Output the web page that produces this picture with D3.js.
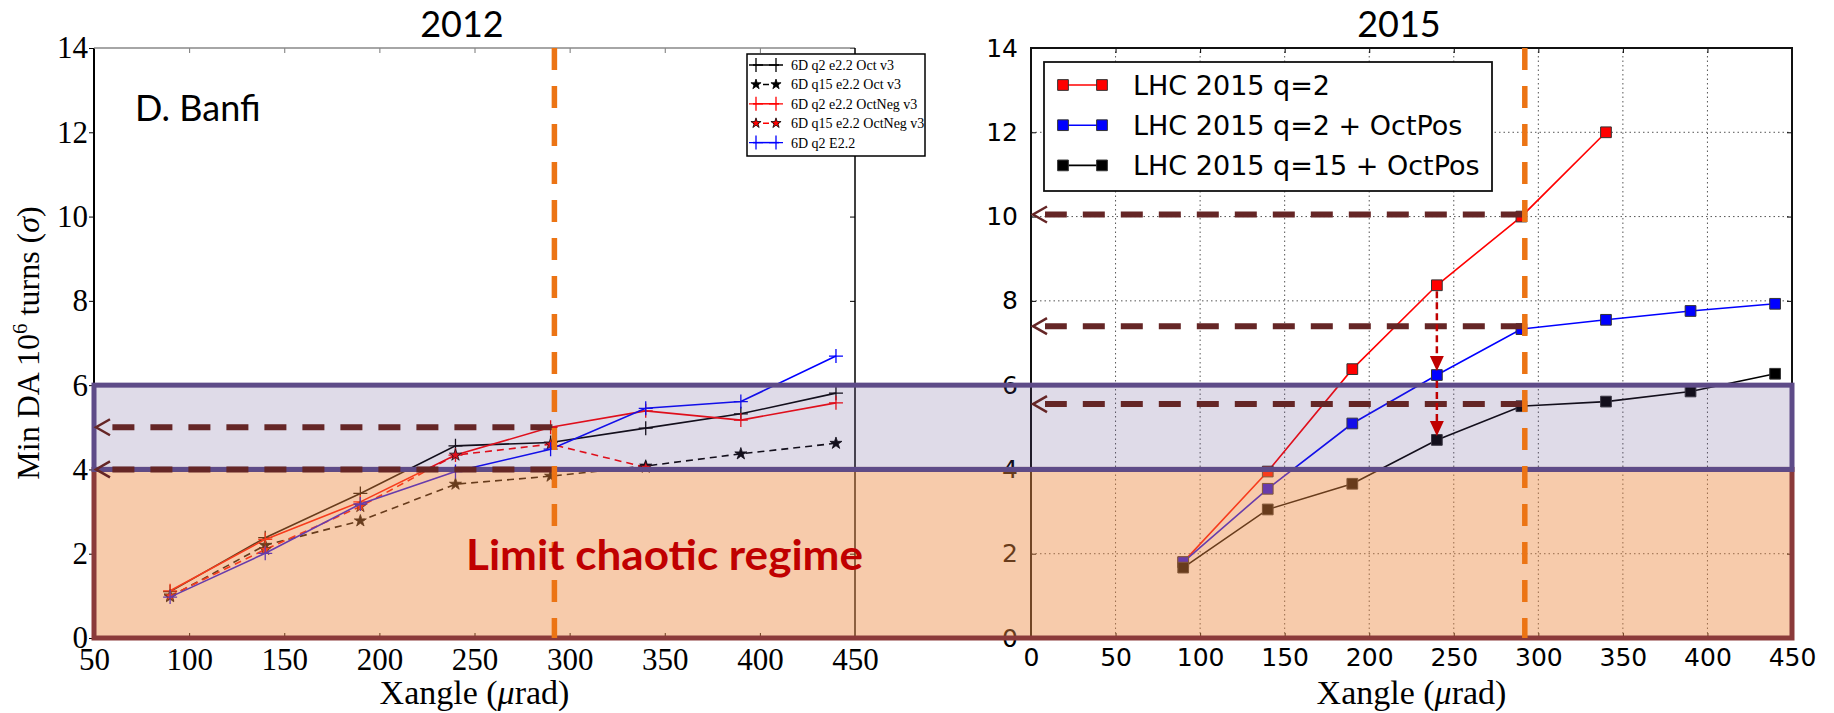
<!DOCTYPE html>
<html>
<head>
<meta charset="utf-8">
<script src="https://cdn.jsdelivr.net/npm/d3@7"></script>
<style>
  body { margin: 0; background: #fff; }
  svg { display: block; }
</style>
</head>
<body>
<div id="chart"></div>
<script>
// ---- data ----
var xangle = [90, 140, 190, 240, 290, 340, 390, 440];

// 2012 panel
var q2Oct2012     = [1.10, 2.38, 3.43, 4.56, 4.64, 4.98, 5.32, 5.81];
var q15Oct2012    = [0.98, 2.20, 2.78, 3.65, 3.84, 4.08, 4.37, 4.62];
var q2OctNeg2012  = [1.12, 2.34, 3.23, 4.34, 5.00, 5.39, 5.17, 5.58];
var q15OctNeg2012 = [1.00, 2.10, 3.12, 4.34, 4.60, 4.05];
var q2E22_2012    = [0.97, 2.01, 3.18, 3.95, 4.48, 5.45, 5.61, 6.69];

// 2015 panel
var q2_2015       = [1.80, 3.95, 6.38, 8.37, 10.0, 12.0];
var q2Oct2015     = [1.80, 3.54, 5.09, 6.24, 7.33, 7.55, 7.76, 7.93];
var q15Oct2015    = [1.67, 3.05, 3.66, 4.70, 5.50, 5.61, 5.85, 6.27];

var xTicks2012 = [50, 100, 150, 200, 250, 300, 350, 400, 450];
var xTicks2015 = [0, 50, 100, 150, 200, 250, 300, 350, 400, 450];
var yTicks = [0, 2, 4, 6, 8, 10, 12, 14];

var xangleLimit = 292;          // orange dashed line
var arrows2012 = [5.0, 4.0];    // horizontal dashed arrows
var arrows2015 = [10.05, 7.4, 5.55];
var chaoticMax = 4, bandMax = 6;

var W = 1834, H = 713;
var serif = "'Liberation Serif', 'DejaVu Serif', serif";
var dejavu = "'DejaVu Sans', sans-serif";
var lato = "Lato, 'Open Sans', sans-serif";

var svg = d3.select("#chart").append("svg")
    .attr("width", W).attr("height", H);

var y = d3.scaleLinear().domain([0, 14]).range([638, 48]);
var xL = d3.scaleLinear().domain([50, 450]).range([94, 855]);
var xR = d3.scaleLinear().domain([0, 450]).range([1031, 1792]);

// ---- right panel grid ----
var grid = svg.append("g").attr("stroke", "#555").attr("stroke-width", 1)
    .attr("stroke-dasharray", "1.5,3");
grid.selectAll(".gx").data(xTicks2015.slice(1, -1)).enter().append("line")
    .attr("x1", function (d) { return xR(d); }).attr("x2", function (d) { return xR(d); })
    .attr("y1", y(0)).attr("y2", y(14));
grid.selectAll(".gy").data(yTicks.slice(1, -1)).enter().append("line")
    .attr("x1", xR(0)).attr("x2", xR(450))
    .attr("y1", function (d) { return y(d); }).attr("y2", function (d) { return y(d); });

// ---- axes ----
function styleAxis(g, font, size) {
    g.select(".domain").remove();
    g.selectAll(".tick text").attr("font-family", font).attr("font-size", size).attr("fill", "#000");
    g.selectAll(".tick line").attr("stroke", "#000").attr("stroke-width", 1);
}
// tick marks only, no labels
function ticksOnly(g) {
    g.select(".domain").remove();
    g.selectAll(".tick text").remove();
    g.selectAll(".tick line").attr("stroke", "#000").attr("stroke-width", 1);
}

// left panel
svg.append("g").attr("transform", "translate(0," + y(0) + ")")
    .call(d3.axisBottom(xL).tickValues(xTicks2012).tickSize(0).tickPadding(10))
    .call(styleAxis, serif, 31);
svg.append("g").attr("transform", "translate(0," + y(0) + ")")
    .call(d3.axisBottom(xL).tickValues(xTicks2012.slice(1, -1)).tickSize(-5))
    .call(ticksOnly);
svg.append("g").attr("transform", "translate(0," + y(14) + ")")
    .call(d3.axisTop(xL).tickValues(xTicks2012.slice(1, -1)).tickSize(-5))
    .call(ticksOnly)
    .selectAll(".tick line").attr("stroke", "#777");
svg.append("g").attr("transform", "translate(" + xL(50) + ",0)")
    .call(d3.axisLeft(y).tickValues(yTicks).tickSize(5).tickPadding(1))
    .call(styleAxis, serif, 31);
svg.append("g").attr("transform", "translate(" + xL(450) + ",0)")
    .call(d3.axisRight(y).tickValues(yTicks).tickSize(-5))
    .call(ticksOnly);
svg.append("line").attr("x1", xL(50)).attr("x2", xL(50)).attr("y1", y(0)).attr("y2", y(14))
    .attr("stroke", "#000").attr("stroke-width", 2);
svg.append("line").attr("x1", xL(50)).attr("x2", xL(450)).attr("y1", y(14)).attr("y2", y(14))
    .attr("stroke", "#888").attr("stroke-width", 1.5);
svg.append("line").attr("x1", xL(450)).attr("x2", xL(450)).attr("y1", y(0)).attr("y2", y(14))
    .attr("stroke", "#000").attr("stroke-width", 1.5);

// right panel
svg.append("g").attr("transform", "translate(0," + y(0) + ")")
    .call(d3.axisBottom(xR).tickValues(xTicks2015).tickSize(0).tickPadding(10))
    .call(styleAxis, dejavu, 25);
svg.append("g").attr("transform", "translate(0," + y(0) + ")")
    .call(d3.axisBottom(xR).tickValues(xTicks2015).tickSize(-5))
    .call(ticksOnly);
svg.append("g").attr("transform", "translate(0," + y(14) + ")")
    .call(d3.axisTop(xR).tickValues(xTicks2015).tickSize(-5))
    .call(ticksOnly);
svg.append("g").attr("transform", "translate(" + xR(0) + ",0)")
    .call(d3.axisLeft(y).tickValues(yTicks).tickSize(-5).tickPadding(13))
    .call(styleAxis, dejavu, 25);
svg.append("g").attr("transform", "translate(" + xR(450) + ",0)")
    .call(d3.axisRight(y).tickValues(yTicks).tickSize(-5))
    .call(ticksOnly);
svg.append("rect").attr("x", xR(0)).attr("y", y(14))
    .attr("width", xR(450) - xR(0)).attr("height", y(0) - y(14))
    .attr("fill", "none").attr("stroke", "#111").attr("stroke-width", 2);

// ---- series ----
function drawSeries(xs, xv, yv, color, dash, marker, fill) {
    var pts = yv.map(function (v, i) { return [xv[i], v]; });
    var line = d3.line().x(function (d) { return xs(d[0]); }).y(function (d) { return y(d[1]); });
    svg.append("path").datum(pts).attr("d", line)
        .attr("fill", "none").attr("stroke", color).attr("stroke-width", 1.6)
        .attr("stroke-dasharray", dash ? "7,5" : null);
    var g = svg.append("g");
    pts.forEach(function (p) {
        addMarker(g, xs(p[0]), y(p[1]), marker, color, fill, 45);
    });
}

function addMarker(g, cx, cy, marker, color, fill, starSize) {
    if (marker === "plus") {
        g.append("path").attr("d", "M-7,0H7M0,-7V7")
            .attr("transform", "translate(" + cx + "," + cy + ")")
            .attr("stroke", color).attr("stroke-width", 1.3);
    } else if (marker === "star") {
        g.append("path").attr("d", d3.symbol(d3.symbolStar, starSize || 45)())
            .attr("transform", "translate(" + cx + "," + cy + ")")
            .attr("fill", fill).attr("stroke", "#000").attr("stroke-width", 0.8);
    } else {
        g.append("path").attr("d", d3.symbol(d3.symbolSquare, 115)())
            .attr("transform", "translate(" + cx + "," + cy + ")")
            .attr("fill", color).attr("stroke", "#333").attr("stroke-width", 1);
    }
}

drawSeries(xL, xangle, q2Oct2012, "#000", false, "plus");
drawSeries(xL, xangle, q15Oct2012, "#000", true, "star", "#000");
drawSeries(xL, xangle, q2OctNeg2012, "#ff0000", false, "plus");
drawSeries(xL, xangle, q15OctNeg2012, "#ff0000", true, "star", "#ff0000");
drawSeries(xL, xangle, q2E22_2012, "#0000ff", false, "plus");

drawSeries(xR, xangle, q2_2015, "#ff0000", false, "square");
drawSeries(xR, xangle, q2Oct2015, "#0000ff", false, "square");
drawSeries(xR, xangle, q15Oct2015, "#000", false, "square");

// ---- shaded bands across both panels ----
var bandX0 = xL(50), bandX1 = xR(450);
svg.append("rect").attr("x", bandX0).attr("y", y(chaoticMax))
    .attr("width", bandX1 - bandX0).attr("height", y(0) - y(chaoticMax))
    .attr("fill", "rgb(237,137,64)").attr("fill-opacity", 0.44);
svg.append("rect").attr("x", bandX0).attr("y", y(bandMax))
    .attr("width", bandX1 - bandX0).attr("height", y(chaoticMax) - y(bandMax))
    .attr("fill", "rgb(95,75,139)").attr("fill-opacity", 0.2);
svg.append("rect").attr("x", bandX0).attr("y", y(chaoticMax))
    .attr("width", bandX1 - bandX0).attr("height", y(0) - y(chaoticMax))
    .attr("fill", "none").attr("stroke", "#8b3a3a").attr("stroke-width", 5);
svg.append("rect").attr("x", bandX0).attr("y", y(bandMax))
    .attr("width", bandX1 - bandX0).attr("height", y(chaoticMax) - y(bandMax))
    .attr("fill", "none").attr("stroke", "#5e4b88").attr("stroke-width", 5);

// ---- legends ----
var legL = svg.append("g");
legL.append("rect").attr("x", 747).attr("y", 54).attr("width", 178).attr("height", 102)
    .attr("fill", "#fff").attr("stroke", "#000").attr("stroke-width", 1.5);
var legL_items = [
    { label: "6D q2 e2.2 Oct v3", color: "#000", dash: false, marker: "plus" },
    { label: "6D q15 e2.2 Oct v3", color: "#000", dash: true, marker: "star", fill: "#000" },
    { label: "6D q2 e2.2 OctNeg v3", color: "#ff0000", dash: false, marker: "plus" },
    { label: "6D q15 e2.2 OctNeg v3", color: "#ff0000", dash: true, marker: "star", fill: "#ff0000" },
    { label: "6D q2 E2.2", color: "#0000ff", dash: false, marker: "plus" }
];
legL_items.forEach(function (d, i) {
    var ly = 65 + i * 19.4;
    legL.append("line").attr("x1", 753).attr("x2", 779).attr("y1", ly).attr("y2", ly)
        .attr("stroke", d.color).attr("stroke-width", 1.5)
        .attr("stroke-dasharray", d.dash ? "6,4" : null);
    addMarker(legL, 756, ly, d.marker, d.color, d.fill, 32);
    addMarker(legL, 776, ly, d.marker, d.color, d.fill, 32);
    legL.append("text").attr("x", 791).attr("y", ly).attr("dy", "0.35em")
        .attr("font-family", serif).attr("font-size", 14).text(d.label);
});

var legR = svg.append("g");
legR.append("rect").attr("x", 1044).attr("y", 62).attr("width", 448).attr("height", 129)
    .attr("fill", "#fff").attr("stroke", "#111").attr("stroke-width", 1.8);
var legR_items = [
    { label: "LHC 2015 q=2", color: "#ff0000" },
    { label: "LHC 2015 q=2 + OctPos", color: "#0000ff" },
    { label: "LHC 2015 q=15 + OctPos", color: "#000" }
];
legR_items.forEach(function (d, i) {
    var ly = 85 + i * 40.2;
    legR.append("line").attr("x1", 1063).attr("x2", 1102).attr("y1", ly).attr("y2", ly)
        .attr("stroke", d.color).attr("stroke-width", 1.6);
    addMarker(legR, 1063, ly, "square", d.color);
    addMarker(legR, 1102, ly, "square", d.color);
    legR.append("text").attr("x", 1133).attr("y", ly).attr("dy", "0.36em")
        .attr("font-family", dejavu).attr("font-size", 27).text(d.label);
});

// ---- dashed arrows ----
var arrowColor = "#652626";
function hArrow(xs, xEnd, yv) {
    var tip = xs(xEnd) + 2, py = y(yv);
    svg.append("line").attr("x1", xs(xangleLimit) - 2).attr("x2", tip + 12)
        .attr("y1", py).attr("y2", py)
        .attr("stroke", arrowColor).attr("stroke-width", 6)
        .attr("stroke-dasharray", "22,16");
    svg.append("path").attr("d", "M" + (tip + 14) + "," + (py - 8) + "L" + tip + "," + py + "L" + (tip + 14) + "," + (py + 8))
        .attr("fill", "none").attr("stroke", arrowColor).attr("stroke-width", 2.5);
}
arrows2012.forEach(function (v) { hArrow(xL, 50, v); });
arrows2015.forEach(function (v) { hArrow(xR, 0, v); });

function vArrow(xv, yFrom, yTo) {
    var px = xR(xv), y0 = y(yFrom) + 6, tip = y(yTo) - 4;
    svg.append("line").attr("x1", px).attr("x2", px).attr("y1", y0).attr("y2", tip - 12)
        .attr("stroke", "#c00000").attr("stroke-width", 2.5).attr("stroke-dasharray", "7,4");
    svg.append("path").attr("d", "M" + (px - 7) + "," + (tip - 15) + "L" + (px + 7) + "," + (tip - 15) + "L" + px + "," + tip + "Z")
        .attr("fill", "#c00000");
}
var iArrow = xangle.indexOf(240);
vArrow(240, q2_2015[iArrow], q2Oct2015[iArrow]);
vArrow(240, q2Oct2015[iArrow], q15Oct2015[iArrow]);

// ---- orange limit lines ----
[xL, xR].forEach(function (xs) {
    svg.append("line").attr("x1", xs(xangleLimit)).attr("x2", xs(xangleLimit))
        .attr("y1", y(14)).attr("y2", y(0))
        .attr("stroke", "#ec7414").attr("stroke-width", 5.5)
        .attr("stroke-dasharray", "22,16");
});

// ---- texts ----
svg.append("text").attr("x", 462).attr("y", 37).attr("text-anchor", "middle")
    .attr("font-family", lato).attr("font-size", 36).text("2012");
svg.append("text").attr("x", 1399).attr("y", 37).attr("text-anchor", "middle")
    .attr("font-family", lato).attr("font-size", 36).text("2015");
svg.append("text").attr("x", 135).attr("y", 121)
    .attr("font-family", lato).attr("font-size", 36).text("D. Banfi");
svg.append("text").attr("x", 466).attr("y", 570)
    .attr("font-family", lato).attr("font-weight", "bold").attr("font-size", 42)
    .attr("fill", "#c00000").attr("textLength", 397).attr("lengthAdjust", "spacingAndGlyphs")
    .text("Limit chaotic regime");

function xTitle(cx) {
    var t = svg.append("text").attr("x", cx).attr("y", 704).attr("text-anchor", "middle")
        .attr("font-family", serif).attr("font-size", 34);
    t.append("tspan").text("Xangle (");
    t.append("tspan").attr("font-style", "italic").text("\u03bc");
    t.append("tspan").text("rad)");
}
xTitle((xL(50) + xL(450)) / 2);
xTitle((xR(0) + xR(450)) / 2);

var yt = svg.append("text").attr("transform", "translate(39," + ((y(0) + y(14)) / 2) + ") rotate(-90)")
    .attr("text-anchor", "middle").attr("font-family", serif).attr("font-size", 32);
yt.append("tspan").text("Min DA 10");
yt.append("tspan").attr("font-size", 21).attr("dy", -12).text("6");
yt.append("tspan").attr("dy", 12).text(" turns (");
yt.append("tspan").attr("font-style", "italic").text("\u03c3");
yt.append("tspan").text(")");
</script>
</body>
</html>
